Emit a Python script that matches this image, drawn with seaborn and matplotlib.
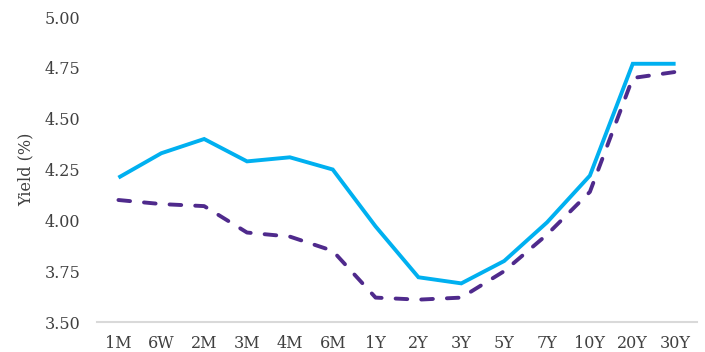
import matplotlib
matplotlib.use("Agg")
import matplotlib.pyplot as plt
import seaborn as sns
import pandas as pd

# Tenors along the curve
tenors = ["1M", "6W", "2M", "3M", "4M", "6M", "1Y", "2Y", "3Y", "5Y", "7Y", "10Y", "20Y", "30Y"]

# Yield curves (%)
current_yield = [4.21, 4.33, 4.40, 4.29, 4.31, 4.25, 3.97, 3.72, 3.69, 3.80, 3.99, 4.22, 4.77, 4.77]
prior_yield = [4.10, 4.08, 4.07, 3.94, 3.92, 3.85, 3.62, 3.61, 3.62, 3.75, 3.93, 4.14, 4.70, 4.73]

y_ticks = [3.50, 3.75, 4.00, 4.25, 4.50, 4.75, 5.00]

df = pd.DataFrame({
    "tenor": tenors * 2,
    "pos": list(range(len(tenors))) * 2,
    "yield": current_yield + prior_yield,
    "curve": ["current"] * len(tenors) + ["prior"] * len(tenors),
})

sns.set_theme(style="white")
plt.rcParams["font.family"] = ["DejaVu Serif"]

fig = plt.figure(figsize=(7.05, 3.52), dpi=100)
ax = fig.add_axes([0.1376, 0.0852, 0.8511, 0.8665])

sns.lineplot(
    data=df, x="pos", y="yield", hue="curve", style="curve",
    palette={"current": "#00B0F0", "prior": "#4F2A8C"},
    dashes={"current": "", "prior": (3, 3.6)},
    linewidth=2.8, legend=False, ax=ax,
    hue_order=["prior", "current"], style_order=["current", "prior"],
)
for line in ax.get_lines():
    line.set_solid_capstyle("butt")
    line.set_dash_capstyle("round")
    line.set_solid_joinstyle("miter")

ax.set_xlim(-0.5, len(tenors) - 0.5)
ax.set_ylim(3.5, 5.0)
ax.set_xticks(range(len(tenors)))
ax.set_xticklabels(tenors)
ax.set_yticks(y_ticks)
ax.set_yticklabels([f"{t:.2f}" for t in y_ticks])
ax.set_xlabel("")
ax.set_ylabel("Yield (%)", fontsize=11.5, color="#404040", labelpad=7)
ax.tick_params(axis="both", labelsize=11.5, colors="#404040", length=0)
ax.tick_params(axis="x", pad=9)
ax.tick_params(axis="y", pad=12)

for side in ["left", "right", "top"]:
    ax.spines[side].set_visible(False)
ax.spines["bottom"].set_color("#D9D9D9")
ax.spines["bottom"].set_linewidth(1.5)
ax.grid(False)

fig.savefig("out.png", dpi=100, facecolor="white")
